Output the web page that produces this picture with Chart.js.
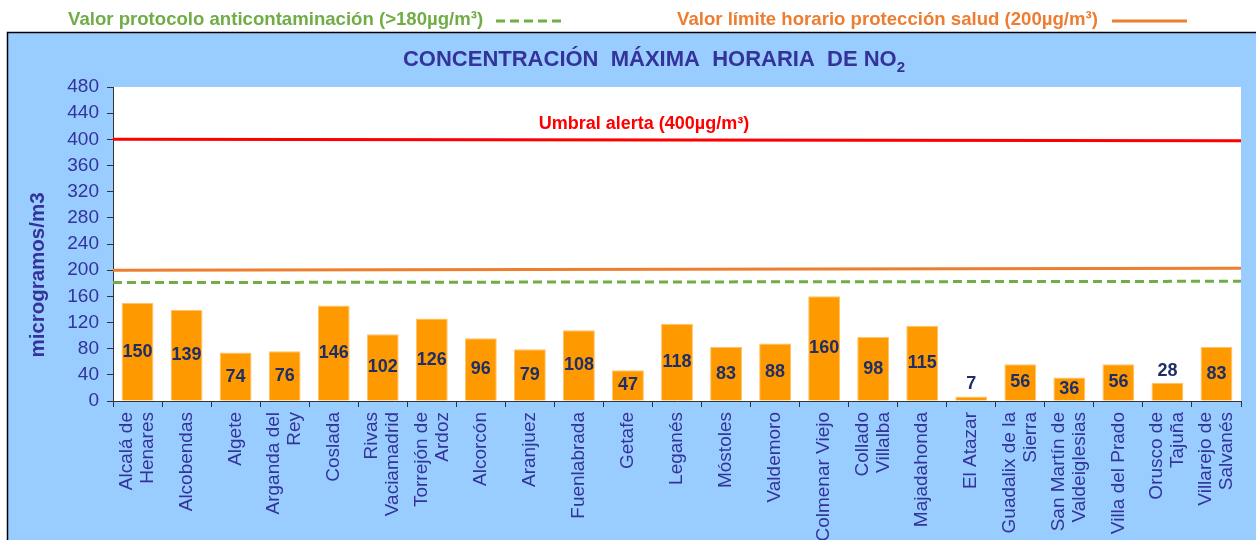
<!DOCTYPE html>
<html>
<head>
<meta charset="utf-8">
<script src="https://cdn.jsdelivr.net/npm/chart.js@4.4.1/dist/chart.umd.min.js"></script>
<style>
  html, body { margin: 0; padding: 0; background: #fff; }
  #wrap { width: 1256px; height: 540px; }
</style>
</head>
<body>
<div id="wrap"><canvas id="myChart" width="1256" height="540"></canvas></div>
<script>
const estaciones = [
  ['Alcalá de', 'Henares'], 'Alcobendas', 'Algete', ['Arganda del', 'Rey'], 'Coslada',
  ['Rivas', 'Vaciamadrid'], ['Torrejón de', 'Ardoz'], 'Alcorcón', 'Aranjuez', 'Fuenlabrada',
  'Getafe', 'Leganés', 'Móstoles', 'Valdemoro', 'Colmenar Viejo', ['Collado', 'Villalba'],
  'Majadahonda', 'El Atazar', ['Guadalix de la', 'Sierra'], ['San Martín de', 'Valdeiglesias'],
  'Villa del Prado', ['Orusco de', 'Tajuña'], ['Villarejo de', 'Salvanés']
];
const maximos = [150, 139, 74, 76, 146, 102, 126, 96, 79, 108, 47, 118, 83, 88, 160, 98, 115, 7, 56, 36, 56, 28, 83];
const yTicks = [0, 40, 80, 120, 160, 200, 240, 280, 320, 360, 400, 440, 480];

// lineas de referencia, valor en el borde izquierdo y derecho del grafico
const umbralAlerta = [400, 398];
const limiteSalud = [200, 203];
const protocolo = [181, 183];

const AZUL = '#333399';
const FUENTE = '"Liberation Sans", Arial, sans-serif';

const fondo = {
  id: 'fondo',
  beforeDraw(chart) {
    const c = chart.ctx, a = chart.chartArea;
    c.save();
    c.fillStyle = '#fff';
    c.fillRect(0, 0, chart.width, chart.height);
    c.fillStyle = '#99ccff';
    c.fillRect(7, 32, chart.width - 7, chart.height - 32);
    c.strokeStyle = '#000';
    c.lineWidth = 1.5;
    c.beginPath();
    c.moveTo(7.5, chart.height);
    c.lineTo(7.5, 32.5);
    c.lineTo(chart.width, 32.5);
    c.stroke();
    c.fillStyle = '#fff';
    c.fillRect(a.left, a.top, a.right - a.left, a.bottom - a.top);
    c.restore();
  },
  afterDraw(chart) {
    const c = chart.ctx, a = chart.chartArea;
    c.save();
    // leyenda superior
    c.font = 'bold 18.6px ' + FUENTE;
    c.textBaseline = 'middle';
    c.textAlign = 'left';
    c.fillStyle = '#70ad47';
    c.fillText('Valor protocolo anticontaminación (>180µg/m³)', 68, 20);
    c.strokeStyle = '#70ad47';
    c.lineWidth = 3;
    c.setLineDash([9, 5]);
    c.beginPath(); c.moveTo(496, 21); c.lineTo(562, 21); c.stroke();
    c.setLineDash([]);
    c.fillStyle = '#ed7d31';
    c.fillText('Valor límite horario protección salud (200µg/m³)', 677, 20);
    c.strokeStyle = '#ed7d31';
    c.beginPath(); c.moveTo(1112, 21); c.lineTo(1187, 21); c.stroke();

    // titulo
    c.fillStyle = AZUL;
    c.font = 'bold 22px ' + FUENTE;
    const t = 'CONCENTRACIÓN  MÁXIMA  HORARIA  DE NO';
    const w = c.measureText(t).width;
    c.font = 'bold 15px ' + FUENTE;
    const w2 = c.measureText('2').width;
    const x0 = 654 - (w + w2) / 2;
    c.font = 'bold 22px ' + FUENTE;
    c.fillText(t, x0, 60);
    c.font = 'bold 15px ' + FUENTE;
    c.fillText('2', x0 + w, 68);

    // titulo eje y
    c.translate(38, 275);
    c.rotate(-Math.PI / 2);
    c.textAlign = 'center';
    c.font = 'bold 20.5px ' + FUENTE;
    c.fillText('microgramos/m3', 0, 0);
    c.restore();

    // etiquetas del eje x, giradas
    const x = chart.scales.x;
    c.save();
    c.fillStyle = AZUL;
    c.font = '19px ' + FUENTE;
    c.textAlign = 'right';
    c.textBaseline = 'middle';
    estaciones.forEach((lab, i) => {
      const lines = Array.isArray(lab) ? lab : [lab];
      const px = x.getPixelForTick(i);
      lines.forEach((ln, j) => {
        c.save();
        c.translate(px + (j - (lines.length - 1) / 2) * 21, a.bottom + 11);
        c.rotate(-Math.PI / 2);
        c.fillText(ln, 0, 0);
        c.restore();
      });
    });
    c.restore();

    // etiqueta umbral
    const y = chart.scales.y;
    c.save();
    c.fillStyle = '#ff0000';
    c.font = 'bold 18px ' + FUENTE;
    c.textAlign = 'center';
    c.textBaseline = 'middle';
    c.fillText('Umbral alerta (400µg/m³)', 644, y.getPixelForValue(umbralAlerta[0]) - 15);
    c.restore();
  },
  afterDatasetsDraw(chart) {
    const c = chart.ctx;
    const meta = chart.getDatasetMeta(0);
    c.save();
    c.fillStyle = '#1f2f66';
    c.font = 'bold 18px ' + FUENTE;
    c.textAlign = 'center';
    c.textBaseline = 'middle';
    meta.data.forEach((bar, i) => {
      const v = maximos[i];
      const yy = v < 30 ? bar.y - 12 : (bar.y + bar.base) / 2;
      c.fillText(String(v), bar.x, yy);
    });
    c.restore();
  }
};

const ctx = document.getElementById('myChart');

new Chart(ctx, {
  data: {
    labels: estaciones,
    datasets: [{
      type: 'bar',
      data: maximos,
      backgroundColor: '#ff9900',
      borderColor: '#ffc36b',
      borderWidth: 1,
      grouped: false,
      categoryPercentage: 1,
      barPercentage: 0.65,
      order: 2
    }, {
      type: 'line',
      xAxisID: 'xl',
      data: [{ x: 0, y: umbralAlerta[0] }, { x: 1, y: umbralAlerta[1] }],
      borderColor: '#ff0000',
      borderWidth: 3,
      pointRadius: 0,
      order: 1
    }, {
      type: 'line',
      xAxisID: 'xl',
      data: [{ x: 0, y: limiteSalud[0] }, { x: 1, y: limiteSalud[1] }],
      borderColor: '#ed7d31',
      borderWidth: 3,
      pointRadius: 0,
      order: 1
    }, {
      type: 'line',
      xAxisID: 'xl',
      data: [{ x: 0, y: protocolo[0] }, { x: 1, y: protocolo[1] }],
      borderColor: '#70ad47',
      borderWidth: 3,
      borderDash: [9, 5],
      pointRadius: 0,
      order: 1
    }]
  },
  options: {
    responsive: false,
    animation: false,
    devicePixelRatio: 1,
    layout: { padding: { top: 87, right: 15, left: 0, bottom: 0 } },
    plugins: {
      legend: { display: false },
      tooltip: { enabled: false }
    },
    scales: {
      x: {
        type: 'category',
        grid: { offset: true, drawOnChartArea: false, tickLength: 6, color: '#333' },
        border: { color: '#333', width: 1 },
        ticks: { display: false, autoSkip: false },
        afterFit(s) { s.height = 139; }
      },
      xl: {
        type: 'linear',
        min: 0,
        max: 1,
        display: false
      },
      y: {
        min: 0,
        max: 480,
        afterBuildTicks(s) { s.ticks = yTicks.map(v => ({ value: v })); },
        grid: { drawOnChartArea: false, tickLength: 6, color: '#333' },
        border: { color: '#333', width: 1 },
        ticks: {
          color: AZUL,
          font: { family: FUENTE, size: 19 },
          padding: 8
        },
        afterFit(s) { s.width = 113; }
      }
    }
  },
  plugins: [fondo]
});
</script>
</body>
</html>
